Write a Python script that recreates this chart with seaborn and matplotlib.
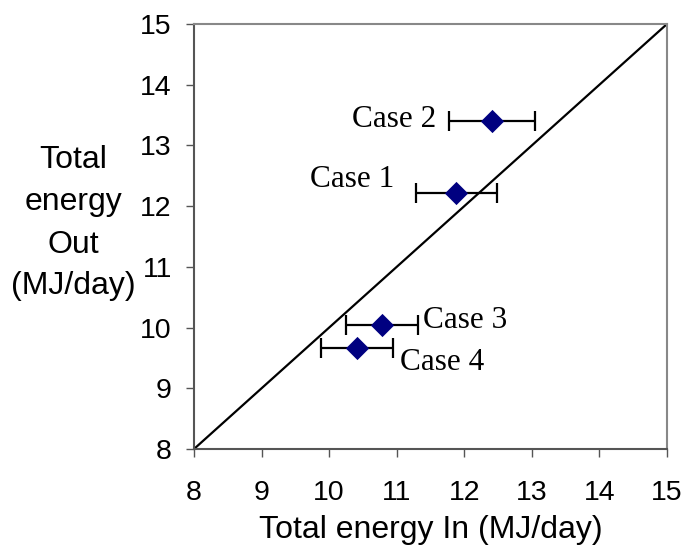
import matplotlib
matplotlib.use("Agg")
import matplotlib.pyplot as plt
import seaborn as sns
import pandas as pd
import numpy as np

cases = ["Case 1", "Case 2", "Case 3", "Case 4"]
energy_in = [11.88, 12.41, 10.78, 10.41]
energy_out = [12.22, 13.40, 10.04, 9.67]
err_in = [0.60, 0.63, 0.53, 0.53]
diag = [8, 15]
ticks = [8, 9, 10, 11, 12, 13, 14, 15]
ylabel_lines = ["Total", "energy", "Out", "(MJ/day)"]

df = pd.DataFrame({"case": cases, "in": energy_in, "out": energy_out, "err": err_in})
line_df = pd.DataFrame({"x": diag, "y": diag})

sns.set_style("white")
plt.rcParams["font.family"] = ["Liberation Sans", "DejaVu Sans"]
plt.rcParams["text.color"] = "black"
plt.rcParams["axes.labelcolor"] = "black"
plt.rcParams["xtick.color"] = "black"
plt.rcParams["ytick.color"] = "black"

W, H = 691, 548
fig = plt.figure(figsize=(W / 100, H / 100), dpi=100)
ax = fig.add_axes([194 / W, 1 - 449 / H, (667 - 194) / W, (449 - 24) / H])

sns.lineplot(data=line_df, x="x", y="y", color="black", lw=1.6, ax=ax)
ax.errorbar(df["in"], df["out"], xerr=df["err"], fmt="none", ecolor="black",
            elinewidth=1.6, capsize=7.5, capthick=1.6, zorder=3)
sns.scatterplot(data=df, x="in", y="out", marker="D", s=140, color="#000080",
                edgecolor="#000080", linewidth=0, zorder=4, ax=ax)

ax.set_xlim(8, 15)
ax.set_ylim(8, 15)
ax.set_xticks(ticks)
ax.set_yticks(ticks)
ax.set_xticklabels([str(t) for t in ticks])
ax.set_yticklabels([str(t) for t in ticks])
ax.tick_params(axis="x", direction="out", length=6, width=1, color="#555555",
               labelcolor="black", labelsize=20.5, pad=16, bottom=True)
ax.tick_params(axis="y", direction="out", length=6, width=1, color="#555555",
               labelcolor="black", labelsize=20.5, pad=10, left=True)

for side in ["top", "right"]:
    ax.spines[side].set_color("#888888")
    ax.spines[side].set_linewidth(1.5)
for side in ["left", "bottom"]:
    ax.spines[side].set_color("#555555")
    ax.spines[side].set_linewidth(1.5)

ax.set_xlabel("Total energy In (MJ/day)", fontsize=23, labelpad=7, color="black")
ax.set_ylabel("")
for line, base in zip(ylabel_lines, [168, 210, 253, 294]):
    fig.text(73.5 / W, 1 - base / H, line, fontsize=23, ha="center",
             va="baseline", color="black")

serif = ["Liberation Serif", "DejaVu Serif"]
ax.text(11.59, 13.30, "Case 2", family=serif, fontsize=22.5, ha="right", va="baseline", color="black")
ax.text(10.97, 12.31, "Case 1", family=serif, fontsize=22.5, ha="right", va="baseline", color="black")
ax.text(11.39, 9.987, "Case 3", family=serif, fontsize=22.5, ha="left", va="baseline", color="black")
ax.text(11.05, 9.30, "Case 4", family=serif, fontsize=22.5, ha="left", va="baseline", color="black")

fig.savefig("out.png", dpi=100)
